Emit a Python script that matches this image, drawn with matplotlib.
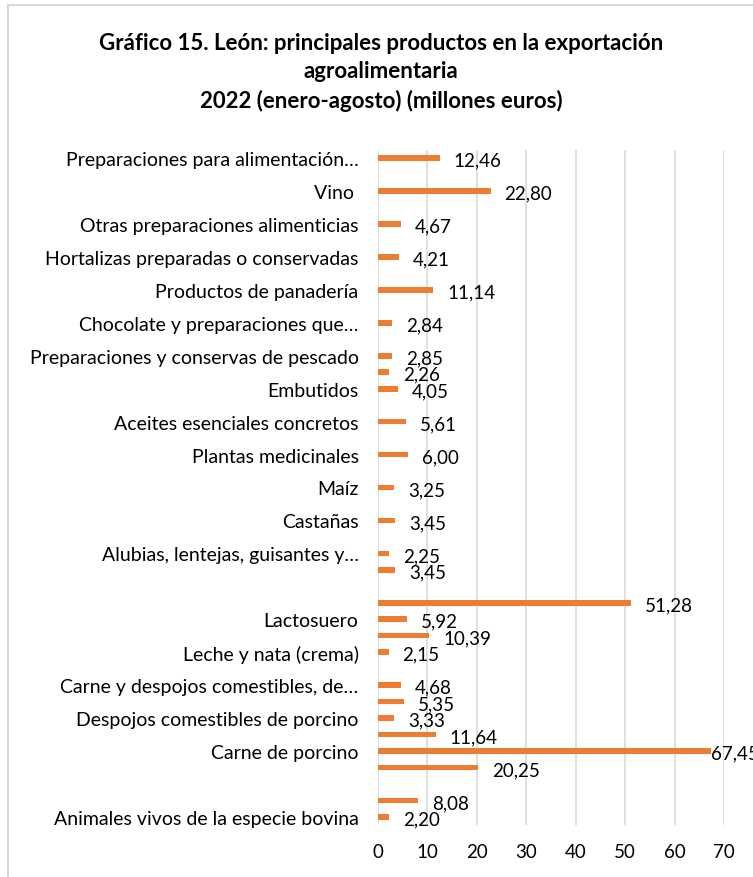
import numpy as np
import matplotlib
matplotlib.use("Agg")
import matplotlib.pyplot as plt
from matplotlib.patches import Rectangle

plt.rcParams["font.family"] = ["Lato", "DejaVu Sans"]

# categories from bottom to top (empty strings = labels skipped by the original chart)
categories = [
    "Animales vivos de la especie bovina", "", "", "",
    "Carne de porcino", "", "Despojos comestibles de porcino", "",
    "Carne y despojos comestibles, de…", "", "Leche y nata (crema)", "",
    "Lactosuero", "", "", "",
    "Alubias, lentejas, guisantes y…", "", "Castañas", "",
    "Maíz", "", "Plantas medicinales", "",
    "Aceites esenciales concretos", "", "Embutidos", "",
    "Preparaciones y conservas de pescado", "", "Chocolate y preparaciones que…", "",
    "Productos de panadería", "", "Hortalizas preparadas o conservadas", "",
    "Otras preparaciones alimenticias", "", "Vino ", "",
    "Preparaciones para alimentación…",
]
values = [
    2.20, 8.08, None, 20.25,
    67.45, 11.64, 3.33, 5.35,
    4.68, None, 2.15, 10.39,
    5.92, 51.28, None, 3.45,
    2.25, None, 3.45, None,
    3.25, None, 6.00, None,
    5.61, None, 4.05, 2.26,
    2.85, None, 2.84, None,
    11.14, None, 4.21, None,
    4.67, None, 22.80, None,
    12.46,
]
xticks = [0, 10, 20, 30, 40, 50, 60, 70]

W, H = 753, 878
fig = plt.figure(figsize=(W / 100, H / 100), dpi=100)

# chart area border (cut off at right and bottom like the screenshot)
fig.patches.append(Rectangle((8 / W, -0.1), 1.2, (H - 6) / H + 0.1,
                             transform=fig.transFigure, fill=False,
                             edgecolor="#D9D9D9", linewidth=1.5))

ax = fig.add_axes([378 / W, (H - 826) / H, (724 - 378) / W, (826 - 151) / H])

y = np.arange(len(categories))
vals = np.array([np.nan if v is None else v for v in values])
ax.barh(y, vals, height=0.34, color="#ED7D31", zorder=3)

for yi, v in zip(y, values):
    if v is None:
        continue
    off = 0 if v > 60 else 10
    ax.annotate(f"{v:.2f}".replace(".", ","), (v, yi), xytext=(off, -1.5),
                textcoords="offset points", va="center", ha="left",
                fontsize=13.5, color="#000000", clip_on=False, zorder=4)

ax.set_ylim(-0.5, len(categories) - 0.5)
ax.set_xlim(0, 70)
ax.set_xticks(xticks)
ax.set_xticklabels([str(t) for t in xticks])
ax.set_yticks(y)
ax.set_yticklabels(categories)
ax.tick_params(axis="both", length=0, colors="#000000")
ax.tick_params(axis="y", pad=14, labelsize=14)
ax.tick_params(axis="x", pad=13, labelsize=13.5)
ax.grid(axis="x", color="#D9D9D9", linewidth=1.2, zorder=0)
for s in ax.spines.values():
    s.set_visible(False)

fig.text(381 / W, 1 - 44 / H, "Gráfico 15. León: principales productos en la exportación",
         ha="center", va="center", fontsize=16, fontweight="bold")
fig.text(381 / W, 1 - 72 / H, "agroalimentaria",
         ha="center", va="center", fontsize=16, fontweight="bold")
fig.text(381 / W, 1 - 101 / H, "2022 (enero-agosto) (millones euros)",
         ha="center", va="center", fontsize=16, fontweight="bold")

fig.savefig("out.png", dpi=100)
